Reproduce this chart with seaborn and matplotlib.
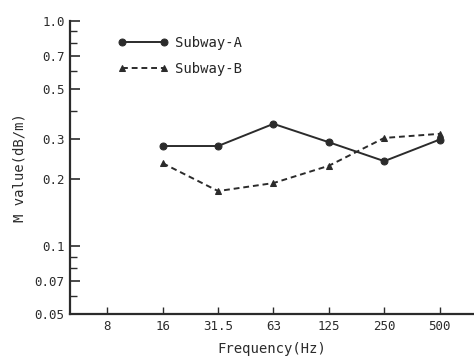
import numpy as np
import pandas as pd
import matplotlib
matplotlib.use("Agg")
import matplotlib.pyplot as plt
import seaborn as sns
from matplotlib.ticker import FixedLocator, NullFormatter

# Data
freq_labels = ['8', '16', '31.5', '63', '125', '250', '500']
subway_a_freqs = ['16', '31.5', '63', '125', '250', '500']
subway_a = [0.279, 0.279, 0.350, 0.290, 0.239, 0.298]
subway_b_freqs = ['16', '31.5', '63', '125', '250', '500']
subway_b = [0.234, 0.176, 0.191, 0.228, 0.303, 0.316]

y_major = [0.05, 0.07, 0.1, 0.2, 0.3, 0.5, 0.7, 1.0]
y_major_labels = ['0.05', '0.07', '0.1', '0.2', '0.3', '0.5', '0.7', '1.0']
y_minor = [0.06, 0.08, 0.09, 0.4, 0.6, 0.8, 0.9]

df = pd.concat([
    pd.DataFrame({'pos': [freq_labels.index(f) for f in subway_a_freqs],
                  'M': subway_a, 'series': 'Subway-A'}),
    pd.DataFrame({'pos': [freq_labels.index(f) for f in subway_b_freqs],
                  'M': subway_b, 'series': 'Subway-B'}),
])

sns.set_style('ticks')
plt.rcParams['font.family'] = ['DejaVu Sans Mono', 'DejaVu Sans']
ink = '#2b2b2b'

fig = plt.figure(figsize=(4.74, 3.59), dpi=100)
ax = fig.add_axes([0.148, 0.125, 0.852, 0.816])

sns.lineplot(
    data=df, x='pos', y='M', hue='series', style='series',
    palette=[ink, ink], markers=['o', '^'], dashes=[(None, None), (3, 2)],
    markersize=5, linewidth=1.4, markeredgecolor=ink, ax=ax
)

ax.set_yscale('log')
ax.set_ylim(0.05, 1.0)
ax.set_xlim(-0.67, 6.62)
ax.yaxis.set_major_locator(FixedLocator(y_major))
ax.set_yticklabels(y_major_labels)
ax.yaxis.set_minor_locator(FixedLocator(y_minor))
ax.yaxis.set_minor_formatter(NullFormatter())
ax.set_xticks(range(len(freq_labels)))
ax.set_xticklabels(freq_labels)

ax.tick_params(axis='both', which='both', direction='in', color=ink,
               labelcolor=ink, labelsize=9, pad=4)
ax.tick_params(axis='y', which='major', length=7, width=1.2)
ax.tick_params(axis='y', which='minor', length=5, width=1.0)
ax.tick_params(axis='x', which='major', length=5, width=1.0)

for side in ['top', 'right']:
    ax.spines[side].set_visible(False)
for side in ['left', 'bottom']:
    ax.spines[side].set_color(ink)
    ax.spines[side].set_linewidth(1.6)

ax.set_xlabel('Frequency(Hz)', fontsize=10, color=ink, labelpad=7)
ax.set_ylabel('M value(dB/m)', fontsize=10, color=ink, labelpad=6)

# legend shows a marker at each end of the sample line
ax.legend(title=None, loc='upper left', bbox_to_anchor=(0.105, 0.97),
          frameon=False, fontsize=10, handlelength=3.6, handletextpad=0.5,
          labelspacing=0.9, borderaxespad=0, numpoints=2)

fig.savefig('out.png', dpi=100)
